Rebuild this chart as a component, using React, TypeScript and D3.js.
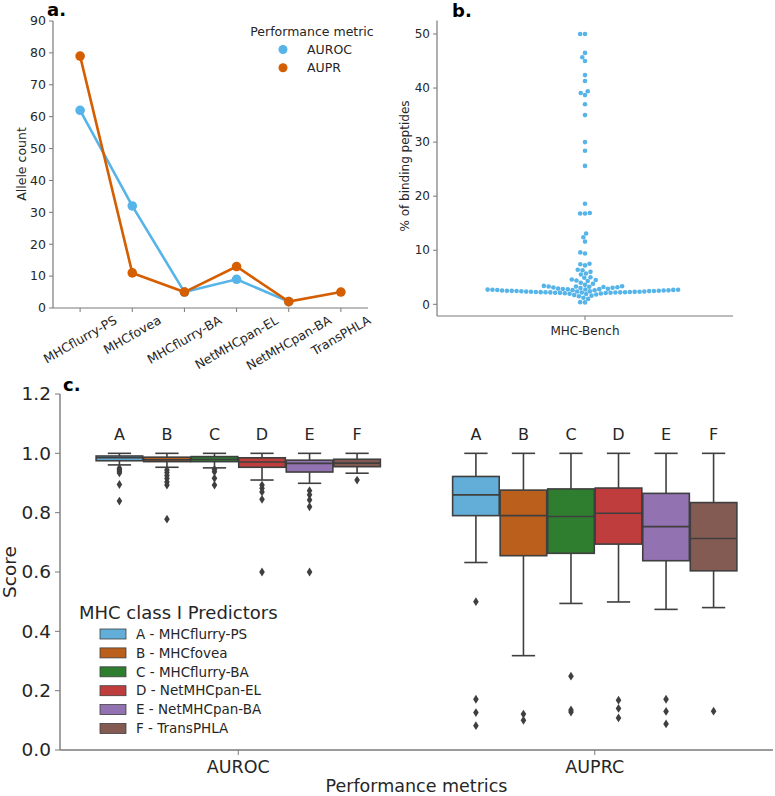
import React from 'react';
import * as d3 from 'd3';

const FONT = "'DejaVu Sans', 'Liberation Sans', sans-serif";

// ---------- Panel a data ----------
const predictors = ['MHCflurry-PS', 'MHCfovea', 'MHCflurry-BA', 'NetMHCpan-EL', 'NetMHCpan-BA', 'TransPHLA'];
const aurocCounts: (number | null)[] = [62, 32, 5, 9, 2, null];
const auprCounts: (number | null)[] = [79, 11, 5, 13, 2, 5];
const countTicks = [0, 10, 20, 30, 40, 50, 60, 70, 80, 90];
const metricSeries = ['AUROC', 'AUPR'];
const metricColors = ['#56B4E9', '#D55E00'];

// ---------- Panel b data ----------
const bindingPct = [
  0.35, 0.4, 1.0, 1.2, 1.5, 1.6, 1.7, 1.8, 1.9, 1.95, 2.0, 2.05,
  2.1, 2.12, 2.14, 2.15, 2.17, 2.18, 2.2, 2.21, 2.22, 2.24, 2.25, 2.27, 2.28, 2.3,
  2.32, 2.33, 2.35, 2.37, 2.38, 2.4, 2.42, 2.44, 2.45, 2.47, 2.49, 2.5, 2.52, 2.54,
  2.56, 2.58, 2.6, 2.62, 2.64, 2.66, 2.68, 2.7, 2.72, 2.74, 2.77, 2.8, 2.83, 2.86, 2.9,
  3.0, 3.05, 3.1, 3.15, 3.2, 3.25, 3.3, 3.3, 3.35, 3.4, 3.6, 3.8, 4.0, 4.3, 4.4, 4.5,
  4.6, 4.9, 5.0, 5.5, 5.7, 6.0, 6.3, 6.4, 7.2, 7.4, 7.5, 9.4, 9.6, 11.6, 12.4, 13.1,
  16.8, 16.8, 16.9, 18.6, 25.6, 28.4, 30.0, 35.0, 37.0, 38.7, 39.1, 39.4, 41.3, 42.4,
  45.0, 45.7, 46.5, 50.0, 50.0,
];
const pctTicks = [0, 10, 20, 30, 40, 50];
const benchCategory = ['MHC-Bench'];

// ---------- Panel c data ----------
const metrics = ['AUROC', 'AUPRC'];
const boxLetters = ['A', 'B', 'C', 'D', 'E', 'F'];
const boxColors = ['#63AED8', '#BA5F1C', '#2F7E30', '#C03D3E', '#9372B2', '#845B53'];
const legendLabels = ['A - MHCflurry-PS', 'B - MHCfovea', 'C - MHCflurry-BA', 'D - NetMHCpan-EL', 'E - NetMHCpan-BA', 'F - TransPHLA'];
// [lowWhisker, q1, median, q3, highWhisker]
const aurocStats = [
  [0.961, 0.975, 0.985, 0.991, 1.0],
  [0.953, 0.972, 0.978, 0.987, 1.0],
  [0.951, 0.972, 0.979, 0.989, 1.0],
  [0.91, 0.953, 0.971, 0.985, 1.0],
  [0.899, 0.937, 0.966, 0.977, 1.0],
  [0.933, 0.955, 0.967, 0.98, 1.0],
];
const aurocOutliers = [
  [0.95, 0.945, 0.94, 0.934, 0.895, 0.839],
  [0.944, 0.935, 0.925, 0.915, 0.903, 0.893, 0.778],
  [0.946, 0.938, 0.916, 0.893],
  [0.893, 0.882, 0.87, 0.845, 0.6],
  [0.874, 0.86, 0.843, 0.82, 0.6],
  [0.91],
];
const auprcStats = [
  [0.632, 0.79, 0.86, 0.922, 1.0],
  [0.318, 0.655, 0.79, 0.876, 1.0],
  [0.494, 0.663, 0.787, 0.88, 1.0],
  [0.499, 0.694, 0.798, 0.883, 1.0],
  [0.474, 0.638, 0.753, 0.865, 1.0],
  [0.48, 0.604, 0.713, 0.834, 1.0],
];
const auprcOutliers = [
  [0.5, 0.171, 0.126, 0.082],
  [0.121, 0.1],
  [0.249, 0.135, 0.128],
  [0.168, 0.14, 0.108],
  [0.171, 0.13, 0.088],
  [0.131],
];
const scoreTicks = [0, 0.2, 0.4, 0.6, 0.8, 1.0, 1.2];

function measure(text: string, font: string): number {
  const ctx = document.createElement('canvas').getContext('2d');
  if (!ctx) return text.length * 7;
  ctx.font = font;
  return ctx.measureText(text).width;
}

function swarm(values: number[], y: (v: number) => number, cx: number, r: number) {
  const pts = values.map((v) => ({ v, y: y(v), x: cx })).sort((a, b) => a.v - b.v);
  const placed: { x: number; y: number }[] = [];
  const d = 2 * r;
  for (const p of pts) {
    const neighbors = placed.filter((q) => Math.abs(q.y - p.y) < d);
    const cands: number[] = [cx];
    let leftFirst = true;
    for (const q of neighbors) {
      const dy = p.y - q.y;
      const dx = Math.sqrt(Math.max(d * d - dy * dy, 0)) * 1.05;
      const l = q.x - dx, rr = q.x + dx;
      if (leftFirst) cands.push(l, rr); else cands.push(rr, l);
      leftFirst = !leftFirst;
    }
    const ok = cands
      .map((x, i) => ({ x, i }))
      .sort((a, b) => Math.abs(a.x - cx) - Math.abs(b.x - cx) || a.i - b.i)
      .find((c) => neighbors.every((q) => Math.hypot(c.x - q.x, p.y - q.y) >= d - 1e-6));
    p.x = ok ? ok.x : cx;
    placed.push({ x: p.x, y: p.y });
  }
  return pts;
}

const AXIS = '#7a7a7a';
const TXT = '#262626';
const BOXLINE = '#3f3f3f';

function PanelA() {
  const x = d3.scalePoint<string>().domain(predictors).range([53, 368]).padding(0.52);
  const y = d3.scaleLinear().domain([0, 90]).range([308, 21]);
  const series = [aurocCounts, auprCounts];
  const line = d3
    .line<number | null>()
    .defined((d) => d !== null)
    .x((_, i) => x(predictors[i]) as number)
    .y((d) => y(d as number));
  const fs = 12.5;
  const fontStr = `${fs}px 'DejaVu Sans'`;
  const ang = Math.PI / 6;
  return (
    <g>
      <text x={47} y={16} fontSize={18} fontWeight="bold" fill="#000">a.</text>
      {/* axes */}
      <line x1={53} x2={53} y1={21} y2={308} stroke={AXIS} strokeWidth={1.2} />
      <line x1={53} x2={368} y1={308} y2={308} stroke={AXIS} strokeWidth={1.2} />
      {countTicks.map((t) => (
        <g key={t}>
          <line x1={49} x2={53} y1={y(t)} y2={y(t)} stroke={AXIS} strokeWidth={1} />
          <text x={46} y={y(t)} dy="0.35em" textAnchor="end" fontSize={fs} fill={TXT}>{t}</text>
        </g>
      ))}
      {predictors.map((p) => {
        const tx = x(p) as number;
        const L = measure(p, fontStr);
        const H = L * Math.sin(ang) + fs * 1.1 * Math.cos(ang);
        const cy = 313 + H / 2;
        return (
          <g key={p}>
            <line x1={tx} x2={tx} y1={308} y2={312} stroke={AXIS} strokeWidth={1} />
            <text
              x={tx}
              y={cy}
              dy="0.35em"
              textAnchor="middle"
              fontSize={fs}
              fill={TXT}
              transform={`rotate(-30, ${tx}, ${cy})`}
            >
              {p}
            </text>
          </g>
        );
      })}
      <text transform={`translate(22,164) rotate(-90)`} textAnchor="middle" dy="0.35em" fontSize={12.5} fill={TXT}>
        Allele count
      </text>
      {series.map((s, si) => (
        <g key={si}>
          <path d={line(s) || ''} fill="none" stroke={metricColors[si]} strokeWidth={2.6} />
          {s.map((v, i) =>
            v === null ? null : (
              <circle key={i} cx={x(predictors[i]) as number} cy={y(v)} r={4.8} fill={metricColors[si]} />
            )
          )}
        </g>
      ))}
      {/* legend */}
      <text x={312} y={32} dy="0.35em" textAnchor="middle" fontSize={12.5} fill={TXT}>Performance metric</text>
      {metricSeries.map((m, i) => (
        <g key={m}>
          <circle cx={283} cy={49.5 + i * 18.3} r={4.5} fill={metricColors[i]} />
          <text x={307} y={49.5 + i * 18.3} dy="0.35em" fontSize={12.5} fill={TXT}>{m}</text>
        </g>
      ))}
    </g>
  );
}

function PanelB() {
  const x = d3.scalePoint<string>().domain(benchCategory).range([437, 733]).padding(0.5);
  const y = d3.scaleLinear().domain([0, 50]).range([304.3, 34]);
  const cx = x('MHC-Bench') as number;
  const pts = swarm(bindingPct, y, cx, 2.3);
  return (
    <g>
      <text x={452} y={17} fontSize={18} fontWeight="bold" fill="#000">b.</text>
      <line x1={437} x2={437} y1={20.5} y2={316} stroke={AXIS} strokeWidth={1.2} />
      <line x1={437} x2={733} y1={316} y2={316} stroke={AXIS} strokeWidth={1.2} />
      {pctTicks.map((t) => (
        <g key={t}>
          <line x1={433} x2={437} y1={y(t)} y2={y(t)} stroke={AXIS} strokeWidth={1} />
          <text x={430} y={y(t)} dy="0.35em" textAnchor="end" fontSize={12} fill={TXT}>{t}</text>
        </g>
      ))}
      <line x1={cx} x2={cx} y1={316} y2={320} stroke={AXIS} strokeWidth={1} />
      <text x={cx} y={331} dy="0.35em" textAnchor="middle" fontSize={12} fill={TXT}>MHC-Bench</text>
      <text transform={`translate(405,166) rotate(-90)`} textAnchor="middle" dy="0.35em" fontSize={12} fill={TXT}>
        % of binding peptides
      </text>
      {pts.map((p, i) => (
        <circle key={i} cx={p.x} cy={p.y} r={2.3} fill="#56B4E9" />
      ))}
    </g>
  );
}

function Diamond({ cx, cy }: { cx: number; cy: number }) {
  const w = 2.8, h = 4.4;
  return <path d={`M${cx},${cy - h}L${cx + w},${cy}L${cx},${cy + h}L${cx - w},${cy}Z`} fill={BOXLINE} />;
}

function PanelC() {
  const x = d3.scaleBand<string>().domain(metrics).range([60, 773]).padding(0);
  const y = d3.scaleLinear().domain([0, 1.2]).range([750, 394]);
  const step = (x.bandwidth() * 0.8) / boxLetters.length;
  const bw = step * 0.98;
  const groups = [
    { stats: aurocStats, outs: aurocOutliers },
    { stats: auprcStats, outs: auprcOutliers },
  ];
  return (
    <g>
      <text x={63} y={391} fontSize={18} fontWeight="bold" fill="#000">c.</text>
      <line x1={60} x2={60} y1={394} y2={750} stroke={AXIS} strokeWidth={1.4} />
      <line x1={60} x2={773} y1={750} y2={750} stroke={AXIS} strokeWidth={1.4} />
      {scoreTicks.map((t) => (
        <g key={t}>
          <line x1={55} x2={60} y1={y(t)} y2={y(t)} stroke={AXIS} strokeWidth={1} />
          <text x={51} y={y(t)} dy="0.35em" textAnchor="end" fontSize={18.5} fill={TXT}>{t.toFixed(1)}</text>
        </g>
      ))}
      {metrics.map((m) => {
        const cx = (x(m) as number) + x.bandwidth() / 2;
        return (
          <g key={m}>
            <line x1={cx} x2={cx} y1={750} y2={755} stroke={AXIS} strokeWidth={1} />
            <text x={cx} y={767} dy="0.35em" textAnchor="middle" fontSize={17.5} fill={TXT}>{m}</text>
          </g>
        );
      })}
      <text x={416.5} y={786} dy="0.35em" textAnchor="middle" fontSize={17.5} fill={TXT}>Performance metrics</text>
      <text transform={`translate(10,572) rotate(-90)`} textAnchor="middle" dy="0.35em" fontSize={18.5} fill={TXT}>Score</text>
      {metrics.map((m, gi) => {
        const gc = (x(m) as number) + x.bandwidth() / 2;
        const { stats, outs } = groups[gi];
        return (
          <g key={m}>
            {boxLetters.map((L, i) => {
              const c = gc + (i - 2.5) * step;
              const [lo, q1, med, q3, hi] = stats[i];
              const capW = bw * 0.5;
              return (
                <g key={L}>
                  <text x={c} y={434} dy="0.35em" textAnchor="middle" fontSize={16} fill={TXT}>{L}</text>
                  <line x1={c} x2={c} y1={y(q3)} y2={y(hi)} stroke={BOXLINE} strokeWidth={1.6} />
                  <line x1={c} x2={c} y1={y(q1)} y2={y(lo)} stroke={BOXLINE} strokeWidth={1.6} />
                  <line x1={c - capW / 2} x2={c + capW / 2} y1={y(hi)} y2={y(hi)} stroke={BOXLINE} strokeWidth={1.6} />
                  <line x1={c - capW / 2} x2={c + capW / 2} y1={y(lo)} y2={y(lo)} stroke={BOXLINE} strokeWidth={1.6} />
                  <rect
                    x={c - bw / 2}
                    y={y(q3)}
                    width={bw}
                    height={y(q1) - y(q3)}
                    fill={boxColors[i]}
                    stroke={BOXLINE}
                    strokeWidth={1.6}
                  />
                  <line x1={c - bw / 2} x2={c + bw / 2} y1={y(med)} y2={y(med)} stroke={BOXLINE} strokeWidth={1.6} />
                  {outs[i].map((o, k) => (
                    <Diamond key={k} cx={c} cy={y(o)} />
                  ))}
                </g>
              );
            })}
          </g>
        );
      })}
      {/* legend */}
      <text x={79} y={613} dy="0.35em" fontSize={18} fill={TXT}>MHC class I Predictors</text>
      {legendLabels.map((l, i) => {
        const cy = 634 + i * 18.9;
        return (
          <g key={l}>
            <rect x={100} y={cy - 5} width={26} height={10} fill={boxColors[i]} stroke={BOXLINE} strokeWidth={0.8} />
            <text x={136} y={cy} dy="0.35em" fontSize={13.5} fill={TXT}>{l}</text>
          </g>
        );
      })}
    </g>
  );
}

export default function App() {
  return (
    <svg
      width={775}
      height={796}
      style={{ position: 'absolute', left: 0, top: 0, background: '#fff' }}
      fontFamily={FONT}
    >
      <rect width={775} height={796} fill="#fff" />
      <PanelA />
      <PanelB />
      <PanelC />
    </svg>
  );
}
